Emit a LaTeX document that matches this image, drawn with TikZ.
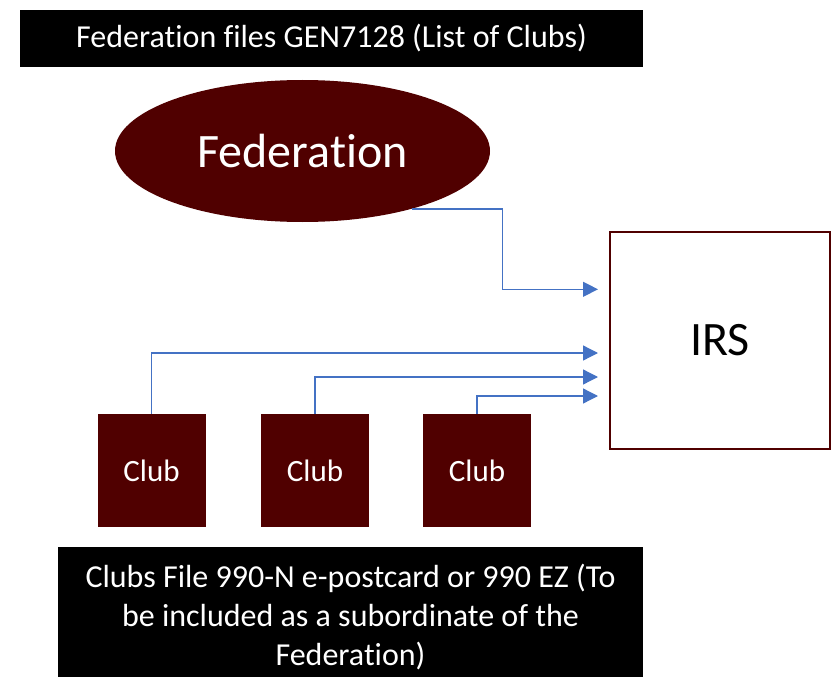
\documentclass[tikz,border=0pt]{standalone}
\usepackage{fontspec}
\setmainfont{Carlito}[Ligatures=NoCommon]
\usetikzlibrary{shapes.geometric,arrows.meta}
\definecolor{maroon}{RGB}{80,0,0}
\definecolor{linkblue}{RGB}{68,114,196}
\tikzset{
  blackbox/.style={fill=black,text=white,inner sep=0pt,align=center,font=\fontsize{32}{39}\selectfont},
  clubbox/.style={fill=maroon,text=white,minimum width=108pt,minimum height=113pt,inner sep=0pt,font=\fontsize{31}{37}\selectfont},
  conn/.style={draw=linkblue,line width=1.3pt,-{Triangle[length=15pt,width=15pt]}}
}
\begin{document}
\begin{tikzpicture}[x=1pt,y=-1pt]
    \useasboundingbox (0,0) rectangle (836,677);

    % titles
    \node[blackbox,minimum width=623pt,minimum height=57pt] (gen) at (331.5,38.5){Federation files GEN7128 (List of Clubs)};
    \node[blackbox,minimum width=585pt,minimum height=140pt] (note) at (350.5,617){Clubs File 990-N e-postcard or 990 EZ (To\\ be included as a subordinate of the\\ Federation)};

    % federation and irs
    \node[ellipse,fill=maroon,text=white,minimum width=375pt,minimum height=142pt,inner sep=0pt,font=\fontsize{48}{55}\selectfont] (fed) at (302.5,151){Federation};
    \node[draw=maroon,line width=2pt,fill=white,minimum width=220pt,minimum height=217pt,font=\fontsize{48}{55}\selectfont] (irs) at (720,340.5){IRS};

    % clubs
    \node[clubbox] (club1) at (151.5,470.5){Club};
    \node[clubbox] (club2) at (315,470.5){Club};
    \node[clubbox] (club3) at (477,470.5){Club};

    % arrow ends
    \coordinate (fedbend) at (502.7,289.3);
    \coordinate (in1) at (598,289.3);
    \coordinate (in2) at (598,353);
    \coordinate (in3) at (598,377);
    \coordinate (in4) at (598,396);

    \draw[conn] (fed.-28) -| (fedbend) -- (in1);
    \draw[conn] (club1.north) |- (in2);
    \draw[conn] (club2.north) |- (in3);
    \draw[conn] (club3.north) |- (in4);

\end{tikzpicture}
\end{document}
